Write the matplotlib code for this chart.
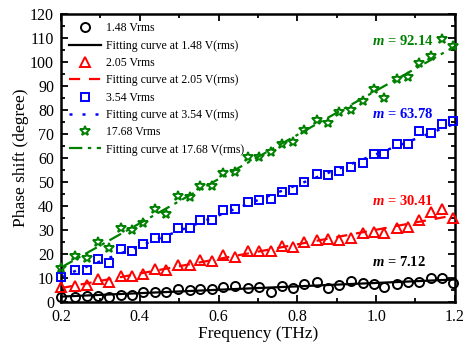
import numpy as np
import matplotlib
matplotlib.use("Agg")
import matplotlib.pyplot as plt
from matplotlib.ticker import MultipleLocator

plt.rcParams['font.family'] = ['Liberation Serif', 'DejaVu Serif']
plt.rcParams['mathtext.fontset'] = 'custom'
plt.rcParams['mathtext.it'] = 'Liberation Serif:italic:bold'
plt.rcParams['mathtext.bf'] = 'Liberation Serif:bold'
plt.rcParams['mathtext.rm'] = 'Liberation Serif:bold'

"""
Data
"""
freq = [0.200, 0.236, 0.266, 0.294, 0.322, 0.352, 0.380, 0.408, 0.439, 0.466,
        0.497, 0.527, 0.553, 0.583, 0.611, 0.642, 0.675, 0.703, 0.733, 0.761,
        0.789, 0.817, 0.850, 0.878, 0.906, 0.936, 0.966, 0.994, 1.020, 1.053,
        1.080, 1.110, 1.140, 1.167, 1.195]

v148 = [2.1, 2.1, 2.3, 2.5, 2.1, 2.9, 2.9, 4.2, 4.2, 4.2, 5.4, 5.0,
        5.4, 5.4, 6.2, 6.7, 5.8, 6.2, 4.2, 6.7, 5.8, 7.5, 8.4,
        5.8, 7.1, 8.8, 7.9, 7.5, 6.3, 7.5, 8.5, 8.5, 10.0, 10.0, 7.9]
v205 = [6.2, 6.7, 7.1, 9.6, 8.3, 10.8, 10.8, 11.7, 13.8, 13.3, 15.4, 15.4,
        17.5, 17.1, 19.6, 18.8, 21.3, 21.3, 21.3, 23.3, 22.9, 25.0, 26.0,
        26.3, 25.8, 26.7, 28.8, 29.2, 28.8, 30.8, 31.3, 34.2, 37.5, 38.8, 35.0]
v354 = [10.4, 13.3, 13.3, 17.9, 16.2, 22.0, 21.2, 24.2, 26.7, 26.7, 30.8, 30.8,
        34.2, 34.2, 38.3, 38.8, 41.5, 42.7, 43.1, 45.8, 46.5, 50.0, 53.3,
        52.9, 54.6, 56.3, 58.0, 61.7, 61.5, 65.8, 65.8, 71.3, 70.4, 74.2, 75.4]
v1768 = [14.2, 19.0, 18.3, 25.0, 22.5, 30.8, 30.0, 33.0, 38.8, 36.7, 44.2, 43.8,
         48.3, 48.3, 53.8, 54.0, 60.4, 60.4, 62.5, 66.0, 66.7, 71.7, 75.8,
         74.6, 79.0, 80.0, 83.7, 88.7, 85.0, 93.0, 93.8, 99.6, 102.5, 109.6, 106.7]

slopes = [7.12, 30.41, 63.78, 92.14]
volts = ["1.48", "2.05", "3.54", "17.68"]
label_y = [16.7, 42.0, 78.3, 109.0]

"""
Plot
"""
fig = plt.figure(figsize=(4.67, 3.45), dpi=100)
ax = fig.add_axes([0.1306, 0.1246, 0.8434, 0.8344])

x = np.asarray(freq)
series = [v148, v205, v354, v1768]
colors = ["black", "red", "blue", "green"]
markers = ["o", "^", "s", "*"]
msizes = [6.5, 7.5, 6.0, 7.5]
lstyles = ["-", (0, (5, 4)), (0, (1.2, 4)), (0, (6, 2.5, 1.5, 2.5))]
lwidths = [1.6, 1.6, 1.8, 1.6]

xf = np.array([0.2, 1.2])
for y, c, mk, ms, ls, lw, m, v in zip(series, colors, markers, msizes,
                                      lstyles, lwidths, slopes, volts):
    y = np.asarray(y)
    ax.plot(x, y, linestyle="none", marker=mk, ms=ms, mfc="none", mec=c,
            mew=1.4, label="{} Vrms".format(v), clip_on=False, zorder=3)
    b = y.mean() - m * x.mean()
    ax.plot(xf, m * xf + b, color=c, ls=ls, lw=lw,
            label="Fitting curve at {} V(rms)".format(v), zorder=2)

for m, c, ly in zip(slopes, colors, label_y):
    ax.text(0.989, ly, r"$m$ = {:.2f}".format(m), color=c, fontsize=10.5,
            fontweight="bold", ha="left", va="center")

h, l = ax.get_legend_handles_labels()
leg = ax.legend(h, l, loc="upper left", frameon=False, fontsize=8.5,
                handlelength=2.7, handletextpad=0.4, labelspacing=0.45,
                borderaxespad=0.3, bbox_to_anchor=(0.0, 1.0))

ax.set_xlim(0.2, 1.2)
ax.set_ylim(0, 120)
ax.xaxis.set_major_locator(MultipleLocator(0.2))
ax.xaxis.set_minor_locator(MultipleLocator(0.1))
ax.yaxis.set_major_locator(MultipleLocator(10))
ax.yaxis.set_minor_locator(MultipleLocator(5))
ax.tick_params(which="both", direction="in", top=True, right=True,
               labelsize=11.5, width=1.3)
ax.tick_params(axis="x", pad=5)
ax.tick_params(axis="y", pad=5)
ax.tick_params(which="major", length=5)
ax.tick_params(which="minor", length=3)
for s in ax.spines.values():
    s.set_linewidth(1.8)

ax.set_xlabel("Frequency (THz)", fontsize=12.5, labelpad=1)
ax.set_ylabel("Phase shift (degree)", fontsize=12.5, labelpad=1)

fig.savefig("out.png", dpi=100)
